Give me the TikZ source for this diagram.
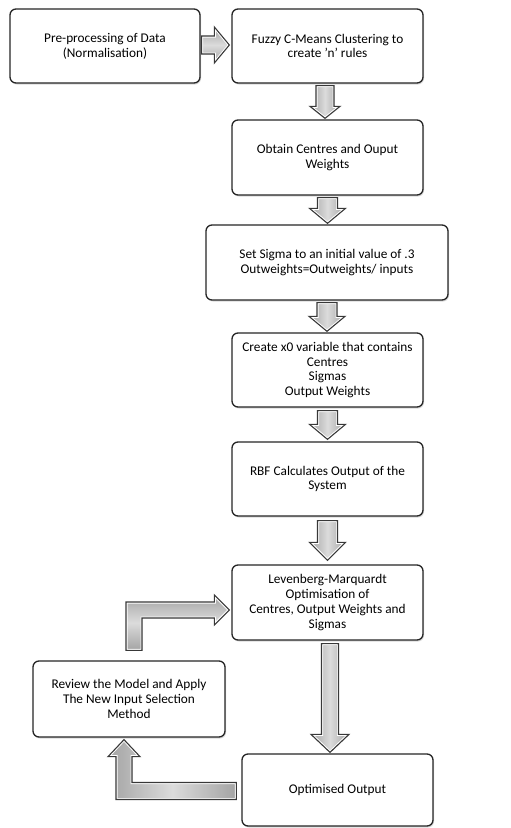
\documentclass[tikz,border=0pt]{standalone}
\usepackage{fontspec}
\setmainfont{Carlito}
\usetikzlibrary{calc,shadows}
\tikzset{
  box/.style={draw=black!85, line width=1.3pt, rounded corners=6pt, fill=white,
    align=center, font=\fontsize{13.3}{14.7}\selectfont, inner sep=2pt,
    drop shadow={shadow xshift=1pt, shadow yshift=-1.5pt, opacity=0.3}},
  arrowline/.style={draw=black!78, line width=1.1pt, line join=miter},
  vshade/.style={left color=black!36, right color=black!36, middle color=black!14},
  hshade/.style={top color=black!36, bottom color=black!36, middle color=black!14},
}
\newcommand\blockdraw[2]{%
  \begin{scope}
    \clip #1;
    \shade[#2] #1;
    \draw[white, line width=3pt] #1;
  \end{scope}
  \draw[arrowline] #1;}
% down block arrow: #1 name, #2 from, #3 to, #4 x offset, #5 shaft half, #6 head half, #7 head length, #8 top gap, #9 tip gap
\newcommand\vblock[9]{%
  \coordinate (#1s) at ($(#2.south)+(#4,#8)$);
  \coordinate (#1u) at (#1s |- #3.north);
  \coordinate (#1t) at ($(#1u)+(0,-#9)$);
  \blockdraw{($(#1s)+(-#5,0)$) -- ($(#1s)+(#5,0)$) -- ($(#1t)+(#5,-#7)$) -- ($(#1t)+(#6,-#7)$) -- (#1t) -- ($(#1t)+(-#6,-#7)$) -- ($(#1t)+(-#5,-#7)$) -- cycle}{vshade}}
\begin{document}
\begin{tikzpicture}[x=1pt,y=-1pt]
\useasboundingbox (0,0) rectangle (511,828);
\fill[white] (0,0) rectangle (511,828);

\node[box, minimum width=190pt, minimum height=74pt] (b1) at (105,46) {Pre-processing of Data\\(Normalisation)};
\node[box, minimum width=191pt, minimum height=74pt] (b2) at (327.5,46) {Fuzzy C-Means Clustering to\\create 'n' rules};
\node[box, minimum width=191pt, minimum height=75pt] (b3) at (327.5,157.5) {Obtain Centres and Ouput\\Weights};
\node[box, minimum width=242pt, minimum height=75pt] (b4) at (327,262.5) {Set Sigma to an initial value of .3\\Outweights=Outweights/ inputs};
\node[box, minimum width=191pt, minimum height=74pt] (b5) at (327.5,370) {Create x0 variable that contains\\Centres\\Sigmas\\Output Weights};
\node[box, minimum width=191pt, minimum height=74pt] (b6) at (327.5,479) {RBF Calculates Output of the\\System};
\node[box, minimum width=191pt, minimum height=75pt] (b7) at (327.5,602.5) {Levenberg-Marquardt\\Optimisation of\\Centres, Output Weights and\\Sigmas};
\node[box, minimum width=191pt, minimum height=72pt] (b8) at (337.5,790) {Optimised Output};
\node[box, minimum width=192pt, minimum height=76pt] (b9) at (129,699) {Review the Model and Apply\\The New Input Selection\\Method};

% right arrow b1 -> b2
\coordinate (a1s) at ($(b1.east)+(1,-1)$);
\coordinate (a1t) at ($(b2.west)+(-2,-1)$);
\blockdraw{($(a1s)+(0,-9)$) -- ($(a1t)+(-15,-9)$) -- ($(a1t)+(-15,-18)$) -- (a1t) -- ($(a1t)+(-15,18)$) -- ($(a1t)+(-15,9)$) -- ($(a1s)+(0,9)$) -- cycle}{hshade}

% down arrows
\vblock{a2}{b2}{b3}{-2.5}{9}{15}{12}{2}{1}
\vblock{a3}{b3}{b4}{0}{10}{18}{15}{2}{1}
\vblock{a4}{b4}{b5}{0}{10}{18}{15}{2}{1}
\vblock{a5}{b5}{b6}{0}{10}{18}{15}{3}{2}
\vblock{a6}{b6}{b7}{0}{10}{18}{18}{4}{4}
\vblock{a7}{b7}{b8}{2.5}{8.5}{19}{18}{3}{1}

% L arrow b8 -> b9
\coordinate (a8s) at ($(b8.west)+(-5,1)$);
\coordinate (a8t) at ($(b9.south)+(-5,2)$);
\coordinate (a8c) at (a8t |- a8s);
\blockdraw{($(a8s)+(0,-8.5)$) -- ($(a8s)+(0,8.5)$) -- ($(a8c)+(-8,8.5)$) -- ($(a8t)+(-8,17)$) -- ($(a8t)+(-16,17)$) -- (a8t) -- ($(a8t)+(16,17)$) -- ($(a8t)+(8,17)$) -- ($(a8c)+(8,-8.5)$) -- cycle}{vshade}

% L arrow b9 -> b7
\coordinate (a9s) at ($(b9.north)+(5,-10)$);
\coordinate (a9t) at ($(b7.west)+(-2,7.5)$);
\coordinate (a9c) at (a9s |- a9t);
\blockdraw{($(a9s)+(-8,0)$) -- ($(a9c)+(-8,-8)$) -- ($(a9t)+(-15,-8)$) -- ($(a9t)+(-15,-15)$) -- (a9t) -- ($(a9t)+(-15,15)$) -- ($(a9t)+(-15,8)$) -- ($(a9c)+(8,8)$) -- ($(a9s)+(8,0)$) -- cycle}{hshade}
\end{tikzpicture}
\end{document}
